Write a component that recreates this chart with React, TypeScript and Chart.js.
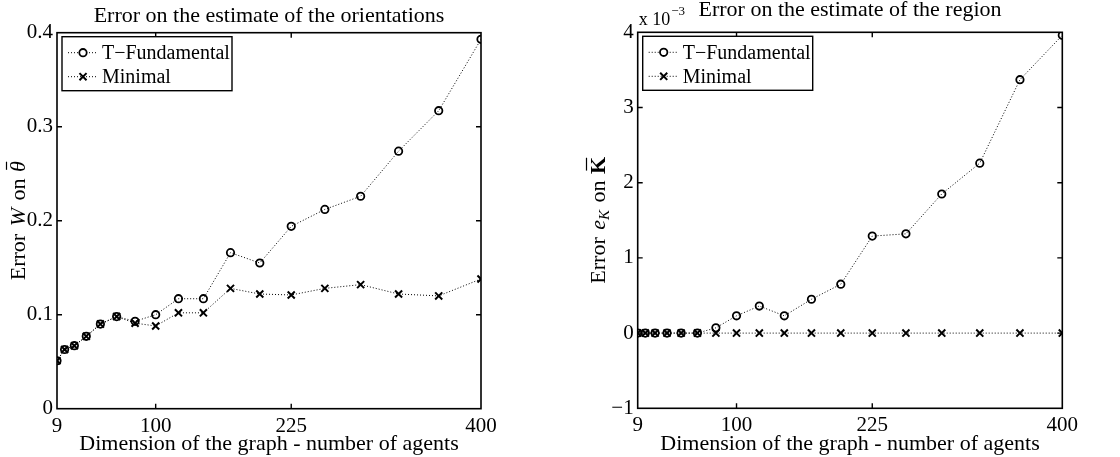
import React, { useEffect, useRef } from "react";
import { Chart, registerables } from "chart.js";

Chart.register(...registerables);

// ---------- data ----------
const agents = [9, 16, 25, 36, 49, 64, 81, 100, 121, 144, 169, 196, 225, 256, 289, 324, 361, 400];
const orientTFund = [0.051, 0.063, 0.067, 0.077, 0.090, 0.098, 0.093, 0.100, 0.117, 0.117, 0.166, 0.155, 0.194, 0.212, 0.226, 0.274, 0.317, 0.393];
const orientMinimal = [0.051, 0.063, 0.067, 0.077, 0.090, 0.098, 0.091, 0.088, 0.102, 0.102, 0.128, 0.122, 0.121, 0.128, 0.132, 0.122, 0.120, 0.138];
const regionTFund = [0, 0, 0, 0, 0, 0, 0.07, 0.23, 0.36, 0.23, 0.45, 0.65, 1.29, 1.32, 1.85, 2.26, 3.37, 3.96];
const regionMinimal = [0, 0, 0, 0, 0, 0, 0, 0, 0, 0, 0, 0, 0, 0, 0, 0, 0, 0];
const xTicks = [9, 100, 225, 400];
const orientYTicks = [0, 0.1, 0.2, 0.3, 0.4];
const regionYTicks = [-1, 0, 1, 2, 3, 4];
const seriesNames = ["T\u2212Fundamental", "Minimal"];
const orientTitle = "Error on the estimate of the orientations";
const regionTitle = "Error on the estimate of the region";
const xTitle = "Dimension of the graph - number of agents";

const SERIF = "'Liberation Serif', 'Times New Roman', serif";

type Seg = { text: string; style?: string; size?: number; dy?: number; bar?: boolean; gap?: number };

const framePlugin = {
  id: "frame",
  beforeDatasetsDraw(chart: any) {
    const { ctx, chartArea: a, scales } = chart;
    ctx.save();
    ctx.strokeStyle = "#000";
    ctx.lineWidth = 1.4;
    const tl = 5;
    ctx.beginPath();
    scales.x.ticks.forEach((t: any) => {
      if (t.value <= scales.x.min || t.value >= scales.x.max) return;
      const p = scales.x.getPixelForValue(t.value);
      ctx.moveTo(p, a.bottom); ctx.lineTo(p, a.bottom - tl);
      ctx.moveTo(p, a.top); ctx.lineTo(p, a.top + tl);
    });
    scales.y.ticks.forEach((t: any) => {
      if (t.value <= scales.y.min || t.value >= scales.y.max) return;
      const p = scales.y.getPixelForValue(t.value);
      ctx.moveTo(a.left, p); ctx.lineTo(a.left + tl, p);
      ctx.moveTo(a.right, p); ctx.lineTo(a.right - tl, p);
    });
    ctx.stroke();
    ctx.lineWidth = 1.6;
    ctx.strokeRect(a.left, a.top, a.right - a.left, a.bottom - a.top);
    ctx.restore();
  },
  afterDraw(chart: any, _args: any, opts: any) {
    const { ctx, chartArea: a } = chart;
    ctx.save();
    // legend
    const bx = a.left + 5, by = a.top + 4, bw = 170, bh = 54;
    ctx.fillStyle = "#fff";
    ctx.fillRect(bx, by, bw, bh);
    ctx.strokeStyle = "#000";
    ctx.lineWidth = 1.4;
    ctx.strokeRect(bx, by, bw, bh);
    chart.data.datasets.forEach((ds: any, i: number) => {
      const ry = by + 16 + i * 24;
      ctx.save();
      ctx.setLineDash([1, 2]);
      ctx.lineWidth = 1;
      ctx.strokeStyle = "#000";
      ctx.beginPath();
      ctx.moveTo(bx + 6, ry); ctx.lineTo(bx + 35, ry);
      ctx.stroke();
      ctx.restore();
      ctx.lineWidth = ds.pointBorderWidth;
      ctx.strokeStyle = "#000";
      ctx.beginPath();
      const mx = bx + 21, r = ds.pointRadius;
      if (ds.pointStyle === "circle") {
        ctx.fillStyle = "#fff";
        ctx.arc(mx, ry, r, 0, Math.PI * 2);
        ctx.fill();
      } else {
        const d = r * Math.SQRT1_2;
        ctx.moveTo(mx - d, ry - d); ctx.lineTo(mx + d, ry + d);
        ctx.moveTo(mx - d, ry + d); ctx.lineTo(mx + d, ry - d);
      }
      ctx.stroke();
      ctx.fillStyle = "#000";
      ctx.font = `20px ${SERIF}`;
      ctx.textBaseline = "middle";
      ctx.textAlign = "left";
      ctx.fillText(ds.label, bx + 40, ry + 1);
    });
    // y-axis title, mixed fonts
    const segs: Seg[] = opts.yTitle;
    const fontOf = (s: Seg) => `${s.style || ""} ${s.size || 22}px ${SERIF}`;
    let total = 0;
    segs.forEach((s) => { ctx.font = fontOf(s); total += ctx.measureText(s.text).width + (s.gap || 0); });
    ctx.translate(opts.yTitleX, (a.top + a.bottom) / 2);
    ctx.rotate(-Math.PI / 2);
    ctx.fillStyle = "#000";
    ctx.textBaseline = "alphabetic";
    ctx.textAlign = "left";
    let x = -total / 2;
    segs.forEach((s) => {
      ctx.font = fontOf(s);
      const w = ctx.measureText(s.text).width;
      ctx.fillText(s.text, x, s.dy || 0);
      if (s.bar) {
        ctx.lineWidth = 1.2;
        ctx.beginPath();
        ctx.moveTo(x + w * 0.2, -18.5);
        ctx.lineTo(x + w * 0.95, -18.5);
        ctx.stroke();
      }
      x += w + (s.gap || 0);
    });
    ctx.restore();
    // exponent
    if (opts.exponent) {
      ctx.save();
      ctx.fillStyle = "#000";
      ctx.textAlign = "left";
      ctx.textBaseline = "alphabetic";
      ctx.font = `18px ${SERIF}`;
      const base = "x 10";
      ctx.fillText(base, a.left + 1, 25);
      const w = ctx.measureText(base).width;
      ctx.font = `13px ${SERIF}`;
      ctx.fillText(opts.exponent, a.left + 1 + w + 1, 15);
      ctx.restore();
    }
  },
};

function makeConfig(
  title: string,
  tf: number[],
  mn: number[],
  yTicks: number[],
  yWidth: number,
  rightPad: number,
  xHeight: number,
  titlePad: { top: number; bottom: number },
  frameOpts: any
): any {
  const lineDs = (label: string, vals: number[], style: string, r: number, bw: number) => ({
    label,
    data: agents.map((a, i) => ({ x: a, y: vals[i] })),
    borderColor: "#000",
    borderWidth: 1,
    borderDash: [1, 2],
    tension: 0,
    fill: false,
    pointStyle: style,
    pointRadius: r,
    pointBorderWidth: bw,
    pointBorderColor: "#000",
    pointBackgroundColor: "rgba(0,0,0,0)",
  });
  const fmt = (v: number) => (v < 0 ? "\u2212" + String(Math.abs(v)) : String(v));
  return {
    type: "line",
    data: {
      datasets: [
        lineDs(seriesNames[0], tf, "circle", 3.7, 1.8),
        lineDs(seriesNames[1], mn, "crossRot", 5, 2),
      ],
    },
    options: {
      animation: false,
      responsive: false,
      maintainAspectRatio: false,
      layout: { padding: { left: 0, right: rightPad, top: 0, bottom: 0 } },
      plugins: {
        legend: { display: false },
        tooltip: { enabled: false },
        title: {
          display: true,
          text: title,
          fullSize: false,
          color: "#000",
          font: { family: SERIF, size: 22, weight: "normal" },
          padding: titlePad,
        },
        frame: frameOpts,
      },
      scales: {
        x: {
          type: "linear",
          min: agents[0],
          max: agents[agents.length - 1],
          afterBuildTicks: (s: any) => { s.ticks = xTicks.map((v) => ({ value: v })); },
          afterFit: (s: any) => { s.height = xHeight; },
          grid: { display: false, drawTicks: false, tickLength: 0 },
          border: { display: false },
          ticks: {
            color: "#000",
            font: { family: SERIF, size: 21 },
            padding: 5,
            maxRotation: 0,
            autoSkip: false,
            callback: (v: number) => fmt(v),
          },
          title: {
            display: true,
            text: xTitle,
            color: "#000",
            font: { family: SERIF, size: 22 },
            padding: { top: 0, bottom: 0 },
          },
        },
        y: {
          type: "linear",
          min: yTicks[0],
          max: yTicks[yTicks.length - 1],
          afterBuildTicks: (s: any) => { s.ticks = yTicks.map((v) => ({ value: v })); },
          afterFit: (s: any) => { s.width = yWidth; },
          grid: { display: false, drawTicks: false, tickLength: 0 },
          border: { display: false },
          ticks: {
            color: "#000",
            font: { family: SERIF, size: 21 },
            padding: 4,
            autoSkip: false,
            callback: (v: number) => fmt(v),
          },
        },
      },
    },
    plugins: [framePlugin],
  };
}

function ChartPanel({ config, left }: { config: any; left: number }) {
  const ref = useRef<HTMLCanvasElement | null>(null);
  useEffect(() => {
    if (!ref.current) return;
    const chart = new Chart(ref.current, config);
    return () => chart.destroy();
  }, [config]);
  return (
    <canvas
      ref={ref}
      width={560}
      height={457}
      style={{ position: "absolute", left, top: 0, width: 560, height: 457, display: "block" }}
    />
  );
}

const leftConfig = makeConfig(
  orientTitle,
  orientTFund,
  orientMinimal,
  orientYTicks,
  57,
  79,
  48.3,
  { top: 2.7, bottom: 3.6 },
  {
    yTitleX: 25,
    yTitle: [
      { text: "Error ", gap: 2 },
      { text: "W", style: "italic", gap: 2 },
      { text: " on ", gap: 1 },
      { text: "\u03b8", style: "italic", bar: true },
    ],
  }
);

const rightConfig = makeConfig(
  regionTitle,
  regionTFund,
  regionMinimal,
  regionYTicks,
  77.7,
  57.7,
  48.7,
  { top: -3.2, bottom: 9.1 },
  {
    yTitleX: 45,
    exponent: "\u22123",
    yTitle: [
      { text: "Error ", gap: 2 },
      { text: "e", style: "italic" },
      { text: "K", style: "italic", size: 15, dy: 4, gap: 2 },
      { text: " on ", gap: 1 },
      { text: "K", style: "bold", bar: true },
    ],
  }
);

export default function App() {
  return (
    <div style={{ position: "fixed", left: 0, top: 0, width: 1120, height: 457, background: "#fff", overflow: "hidden" }}>
      <ChartPanel config={leftConfig} left={0} />
      <ChartPanel config={rightConfig} left={560} />
    </div>
  );
}
